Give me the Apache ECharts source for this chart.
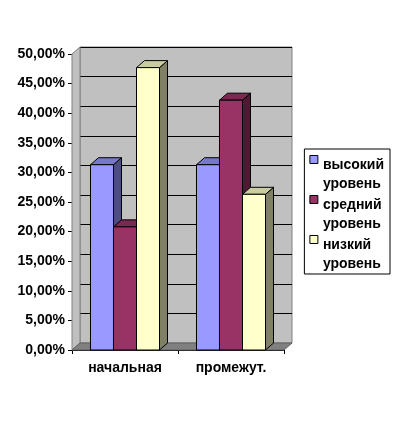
<!DOCTYPE html>
<html><head><meta charset="utf-8">
<script src="https://cdn.jsdelivr.net/npm/echarts@6/dist/echarts.min.js"></script>
<style>html,body{margin:0;padding:0;background:#fff}#c{width:401px;height:422px}</style>
</head><body><div id="c"></div>
<script>
var categories = ['начальная', 'промежут.'];
var seriesNames = ['высокий уровень', 'средний уровень', 'низкий уровень'];
var highValues = [31.3, 31.3];
var midValues = [20.8, 42.2];
var lowValues = [47.7, 26.3];
var yTicks = [0, 5, 10, 15, 20, 25, 30, 35, 40, 45, 50];

var frontColors = ['#9999FF', '#993366', '#FFFFCC'];
var topColors = ['#7777CC', '#7A2952', '#CCCCA3'];
var sideColors = ['#4D4D80', '#4D1A33', '#808066'];
var DX = 8, DY = -7;
var FONT = 'Liberation Sans, Arial, sans-serif';

var chart = echarts.init(document.getElementById('c'));

function barSeries(idx, values) {
  return {
    type: 'custom', name: seriesNames[idx], xAxisIndex: 1, yAxisIndex: 1,
    data: values.map(function (v, i) { return [i, v]; }),
    itemStyle: { color: frontColors[idx] },
    renderItem: function (params, api) {
      var c = api.value(0), v = api.value(1);
      var top = api.coord([c, v]);
      var base = api.coord([c, 0]);
      var band = api.size([1, 0])[0];
      var w = band * 0.217;
      var x0 = top[0] + (idx - 1.5) * w;
      var x1 = x0 + w;
      var yT = top[1], yB = base[1];
      var ls = { stroke: '#000', lineWidth: 1 };
      return { type: 'group', children: [
        { type: 'polygon', shape: { points: [[x1, yT], [x1 + DX, yT + DY], [x1 + DX, yB + DY], [x1, yB]] },
          style: Object.assign({ fill: sideColors[idx] }, ls) },
        { type: 'polygon', shape: { points: [[x0, yT], [x0 + DX, yT + DY], [x1 + DX, yT + DY], [x1, yT]] },
          style: Object.assign({ fill: topColors[idx] }, ls) },
        { type: 'rect', shape: { x: x0, y: yT, width: w, height: yB - yT },
          style: Object.assign({ fill: frontColors[idx] }, ls) }
      ]};
    }
  };
}

var wallSeries = {
  type: 'custom', xAxisIndex: 1, yAxisIndex: 1, silent: true,
  data: [[0, 0]],
  renderItem: function (params, api) {
    var p0 = api.coord([0, 0]);
    var band = api.size([1, 0])[0];
    var left = p0[0] - band / 2, right = p0[0] + band * 1.5;
    var yB = p0[1], yT = api.coord([0, 50])[1];
    return { type: 'group', children: [
      { type: 'polygon', shape: { points: [[left, yT], [left + DX, yT + DY], [left + DX, yB + DY], [left, yB]] },
        style: { fill: '#C0C0C0', stroke: '#808080', lineWidth: 1 } },
      { type: 'polygon', shape: { points: [[left, yB], [left + DX, yB + DY], [right + DX, yB + DY], [right, yB]] },
        style: { fill: '#808080', stroke: '#606060', lineWidth: 1 } }
    ]};
  }
};

var legendIcon = 'path://M0,0L8,0L8,8L0,8Z M0,38L0.05,38L0.05,38.05Z';

chart.setOption({
  animation: false,
  backgroundColor: '#fff',
  grid: [
    { left: 80, right: 109, top: 47, bottom: 79, show: true, backgroundColor: '#C0C0C0', borderColor: '#808080', borderWidth: 1 },
    { left: 72, right: 117, top: 54, bottom: 72 }
  ],
  xAxis: [
    { type: 'category', gridIndex: 0, data: categories, show: false },
    { type: 'category', gridIndex: 1, data: categories,
      axisLine: { lineStyle: { color: '#000', width: 1 } },
      axisTick: { show: true, inside: false, length: 4, lineStyle: { color: '#000' } },
      axisLabel: { color: '#000', fontFamily: FONT, fontWeight: 'bold', fontSize: 14, margin: 11 } }
  ],
  yAxis: [
    { type: 'value', gridIndex: 0, min: 0, max: 50, interval: 5,
      axisLine: { show: false }, axisTick: { show: false }, axisLabel: { show: false },
      splitLine: { show: true, lineStyle: { color: '#000', width: 1 } } },
    { type: 'value', gridIndex: 1, min: 0, max: 50, interval: 5,
      axisLine: { show: true, lineStyle: { color: '#000', width: 1 } },
      axisTick: { show: true, length: 4, lineStyle: { color: '#000' } },
      splitLine: { show: false },
      axisLabel: { color: '#000', fontFamily: FONT, fontWeight: 'bold', fontSize: 14, margin: 7,
        formatter: function (v) { return v.toFixed(2).replace('.', ',') + '%'; } } }
  ],
  legend: {
    orient: 'vertical', right: 11, top: 149,
    padding: [6, 6, 0, 5],
    borderColor: '#000', borderWidth: 1, backgroundColor: '#fff',
    itemWidth: 8, itemHeight: 38, itemGap: 1,
    symbolKeepAspect: false,
    textStyle: { color: '#000', fontFamily: FONT, fontWeight: 'bold', fontSize: 14, lineHeight: 19 },
    data: seriesNames.map(function (n, i) { return { name: n, icon: legendIcon, itemStyle: { color: frontColors[i], borderColor: '#000', borderWidth: 1 } }; }),
    formatter: function (n) { return n.replace(' ', '\n'); }
  },
  series: [wallSeries, barSeries(0, highValues), barSeries(1, midValues), barSeries(2, lowValues)]
});
</script></body></html>
